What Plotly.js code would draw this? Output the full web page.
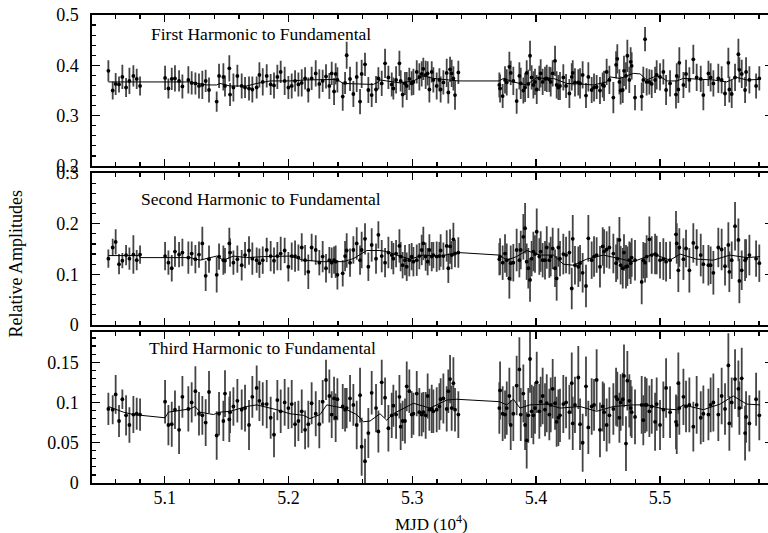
<!DOCTYPE html>
<html>
<head>
<meta charset="utf-8">
<script src="https://cdn.plot.ly/plotly-3.0.1.min.js"></script>
<style>
html,body{margin:0;padding:0;overflow:hidden;background:#fff;}
#chart{width:776px;height:533px;}
</style>
</head>
<body>
<div id="chart"></div>
<script>
// MJD (10^4) of each observation, shared by the three panels
const mjd = [
5.0545,5.0580,5.0604,5.0631,5.0658,5.0688,5.0715,5.0747,5.0774,5.0801,
5.1003,5.1030,5.1057,5.1083,5.1116,5.1143,5.1191,5.1218,5.1248,5.1277,5.1304,5.1331,5.1358,
5.1420,5.1439,5.1474,5.1487,5.1522,5.1528,5.1555,5.1587,5.1622,5.1649,5.1681,5.1708,5.1743,5.1765,5.1792,5.1824,5.1856,5.1883,5.1910,5.1937,5.1969,5.1999,5.2026,5.2053,5.2080,5.2107,5.2134,5.2160,5.2187,5.2220,5.2249,5.2276,5.2303,5.2330,5.2349,5.2368,5.2381,5.2395,
5.2438,5.2457,5.2470,5.2497,5.2524,5.2551,5.2578,5.2591,5.2618,5.2645,5.2672,5.2707,5.2726,5.2753,5.2780,5.2807,
5.2834,5.2847,5.2869,5.2896,5.2906,5.2922,5.2941,5.2955,5.2976,5.2995,5.3009,5.3036,5.3057,5.3076,5.3089,5.3108,5.3124,5.3138,5.3157,5.3170,5.3197,5.3219,5.3229,5.3251,5.3278,5.3291,5.3305,5.3318,5.3332,5.3345,5.3372,
5.3703,5.3709,5.3730,5.3749,5.3763,5.3784,5.3795,5.3816,5.3843,5.3865,
5.3876,5.3897,5.3911,5.3924,5.3937,5.3951,5.3964,5.3978,5.3991,5.4005,
5.4026,5.4037,5.4053,5.4072,5.4086,5.4107,5.4118,5.4134,5.4153,5.4166,
5.4180,5.4193,5.4220,5.4242,5.4269,5.4288,5.4296,5.4314,5.4341,5.4355,
5.4376,5.4403,5.4422,5.4449,5.4468,5.4489,5.4516,5.4538,5.4549,5.4570,
5.4592,5.4624,5.4646,5.4656,5.4673,5.4683,5.4700,5.4710,5.4726,5.4737,
5.4753,5.4764,5.4772,5.4799,5.4853,5.4866,5.4880,5.4893,5.4915,5.4934,
5.4961,5.4974,5.5001,5.5028,5.5050,5.5082,5.5130,5.5136,5.5149,5.5157,
5.5190,5.5211,5.5238,5.5270,5.5297,5.5330,5.5351,5.5392,5.5410,5.5432,
5.5472,5.5499,5.5526,5.5553,5.5561,5.5580,5.5607,5.5634,5.5642,5.5661,
5.5688,5.5696,5.5723,5.5777,5.5803
];

// First harmonic to fundamental
const first = [
0.389,0.350,0.363,0.362,0.377,0.356,0.369,0.379,0.373,0.359,
0.375,0.354,0.373,0.374,0.369,0.358,0.371,0.365,0.364,0.359,0.361,0.369,0.351,
0.328,0.379,0.377,0.359,0.394,0.342,0.356,0.379,0.359,0.356,0.354,0.352,0.356,0.381,0.367,0.379,0.362,0.360,0.377,0.387,0.369,0.356,0.359,0.369,0.362,0.365,0.374,0.351,0.374,0.384,0.363,0.369,0.378,0.359,0.384,0.348,0.383,0.371,
0.338,0.365,0.420,0.373,0.343,0.377,0.328,0.383,0.402,0.351,0.341,0.352,0.374,0.364,0.404,0.376,
0.362,0.354,0.371,0.404,0.369,0.342,0.364,0.359,0.373,0.364,0.367,0.387,0.377,0.383,0.393,0.381,0.384,0.352,0.387,0.371,0.359,0.371,0.352,0.366,0.385,0.346,0.392,0.384,0.374,0.341,0.386,
0.361,0.354,0.339,0.371,0.366,0.397,0.385,0.369,0.329,0.379,
0.364,0.350,0.356,0.385,0.363,0.419,0.376,0.361,0.367,0.352,
0.374,0.384,0.367,0.373,0.374,0.372,0.367,0.384,0.409,0.361,
0.356,0.359,0.376,0.359,0.344,0.377,0.385,0.366,0.366,0.364,
0.381,0.340,0.377,0.351,0.356,0.357,0.350,0.361,0.359,0.387,
0.371,0.336,0.401,0.413,0.367,0.350,0.351,0.389,0.379,0.419,
0.371,0.407,0.399,0.336,0.338,0.371,0.452,0.367,0.367,0.363,
0.371,0.381,0.377,0.387,0.351,0.364,0.342,0.379,0.352,0.405,
0.361,0.383,0.371,0.412,0.376,0.373,0.341,0.384,0.376,0.364,
0.374,0.371,0.344,0.405,0.352,0.343,0.376,0.422,0.391,0.383,
0.351,0.387,0.371,0.359,0.374
];
const firstErr = [
.021,.018,.022,.016,.024,.019,.026,.021,.02,.019,
.024,.02,.022,.026,.021,.024,.027,.023,.022,.025,
.028,.022,.025,.02,.024,.027,.021,.026,.023,.028,
.022,.025,.021,.024,.026,.022,.025,.027,.023,.021,
.026,.024,.022,.028,.023,.025,.021,.024,.027,.022,
.025,.023,.026,.029,.022,.024,.026,.023,.027,.021,
.025,.028,.022,.027,.024,.026,.03,.025,.028,.023,
.026,.024,.027,.022,.025,.029,.023,
.024,.022,.027,.025,.021,.026,.023,.028,.022,.024,
.026,.023,.027,.025,.022,.028,.024,.026,.021,.025,
.027,.023,.026,.024,.028,.022,.025,.027,.024,.029,.023,
.025,.028,.024,.027,.026,.03,.024,.028,.025,.027,
.031,.026,.029,.025,.028,.03,.024,.027,.026,.029,
.025,.028,.026,.024,.027,.025,.029,.026,.03,.027,
.025,.028,.026,.024,.029,.027,.025,.028,.026,.03,
.027,.025,.029,.026,.028,.024,.027,.025,.03,.026,
.028,.031,.027,.029,.025,.028,.026,.03,.027,.032,
.026,.029,.027,.025,.028,.026,.024,.027,.025,.028,
.026,.029,.027,.025,.03,.026,.028,.025,.027,.031,
.026,.028,.025,.029,.027,.026,.03,.025,.028,.026,
.029,.027,.025,.03,.026,.028,.027,.031,.025,.028,
.026,.029,.027,.025,.024
];

// Second harmonic to fundamental
const second = [
0.131,0.153,0.164,0.120,0.127,0.138,0.131,0.139,0.128,0.139,
0.136,0.123,0.112,0.145,0.139,0.143,0.133,0.141,0.130,0.139,0.161,0.097,0.130,
0.099,0.135,0.128,0.127,0.161,0.143,0.123,0.130,0.118,0.138,0.147,0.131,0.128,0.122,0.128,0.148,0.136,0.127,0.136,0.141,0.147,0.115,0.136,0.136,0.133,0.153,0.128,0.105,0.153,0.148,0.123,0.135,0.112,0.128,0.123,0.128,0.125,0.099,
0.102,0.136,0.147,0.123,0.148,0.161,0.128,0.148,0.170,0.115,0.158,0.131,0.178,0.136,0.123,0.143,
0.138,0.131,0.141,0.156,0.135,0.118,0.128,0.115,0.128,0.135,0.125,0.128,0.136,0.148,0.161,0.135,0.125,0.148,0.135,0.138,0.135,0.136,0.147,0.136,0.156,0.112,0.155,0.138,0.169,0.141,0.143,
0.130,0.135,0.123,0.141,0.128,0.092,0.122,0.123,0.148,0.128,
0.148,0.174,0.191,0.125,0.112,0.089,0.131,0.145,0.140,0.184,
0.135,0.145,0.128,0.128,0.153,0.128,0.135,0.151,0.112,0.092,
0.153,0.131,0.140,0.138,0.143,0.072,0.170,0.118,0.115,0.122,
0.103,0.077,0.171,0.128,0.135,0.138,0.115,0.155,0.145,0.149,
0.153,0.141,0.122,0.131,0.168,0.118,0.112,0.143,0.115,0.116,
0.128,0.122,0.133,0.128,0.085,0.128,0.123,0.135,0.169,0.138,
0.140,0.138,0.128,0.130,0.125,0.128,0.179,0.161,0.108,0.153,
0.130,0.151,0.108,0.162,0.153,0.138,0.120,0.118,0.118,0.103,
0.153,0.149,0.116,0.158,0.105,0.128,0.195,0.168,0.087,0.108,
0.128,0.131,0.138,0.131,0.122
];
const secondErr = [
.018,.017,.025,.02,.015,.02,.022,.038,.02,.018,
.028,.024,.026,.03,.025,.027,.032,.024,.028,.026,
.033,.03,.027,.035,.026,.029,.025,.031,.028,.024,
.027,.03,.026,.028,.032,.025,.029,.027,.024,.03,
.026,.028,.033,.025,.029,.027,.031,.026,.028,.03,
.034,.027,.029,.025,.031,.028,.026,.03,.027,.032,
.029,.026,.03,.034,.028,.027,.032,.029,.036,.031,
.028,.033,.03,.027,.032,.029,.031,
.028,.031,.027,.033,.029,.026,.03,.028,.032,.027,
.029,.031,.026,.03,.033,.028,.027,.031,.029,.026,
.03,.028,.032,.027,.031,.029,.034,.028,.033,.027,.03,
.032,.036,.034,.038,.033,.04,.035,.037,.042,.034,
.038,.045,.05,.036,.04,.043,.035,.039,.037,.046,
.036,.04,.034,.038,.042,.035,.039,.041,.037,.044,
.038,.035,.04,.036,.043,.041,.047,.038,.04,.036,
.039,.042,.046,.037,.04,.035,.041,.038,.044,.036,
.042,.039,.037,.041,.045,.038,.04,.036,.043,.039,
.037,.041,.038,.04,.044,.036,.039,.042,.045,.037,
.04,.038,.036,.041,.039,.037,.046,.04,.043,.038,
.041,.037,.044,.039,.036,.042,.038,.04,.037,.043,
.039,.041,.038,.045,.04,.037,.048,.042,.044,.039,
.041,.038,.04,.036,.037
];

// Third harmonic to fundamental
const third = [
0.092,0.091,0.110,0.077,0.104,0.084,0.072,0.085,0.086,0.085,
0.101,0.072,0.073,0.091,0.066,0.107,0.092,0.100,0.114,0.086,0.084,0.075,0.113,
0.059,0.086,0.077,0.111,0.079,0.088,0.095,0.102,0.091,0.093,0.072,0.107,0.118,0.102,0.098,0.098,0.081,0.060,0.103,0.089,0.100,0.093,0.098,0.073,0.077,0.089,0.066,0.073,0.099,0.086,0.073,0.101,0.128,0.108,0.085,0.105,0.081,0.104,
0.095,0.091,0.093,0.105,0.097,0.072,0.109,0.045,0.027,0.062,0.112,0.093,0.064,0.125,0.106,0.068,
0.084,0.096,0.085,0.107,0.070,0.077,0.077,0.120,0.114,0.085,0.086,0.111,0.088,0.085,0.088,0.084,0.108,0.091,0.092,0.089,0.091,0.095,0.104,0.105,0.092,0.114,0.129,0.093,0.124,0.091,0.085,
0.093,0.115,0.086,0.085,0.093,0.108,0.072,0.086,0.121,0.141,
0.085,0.111,0.072,0.053,0.084,0.154,0.089,0.084,0.093,0.125,
0.089,0.101,0.108,0.091,0.099,0.085,0.097,0.117,0.099,0.076,
0.081,0.084,0.098,0.100,0.088,0.124,0.074,0.097,0.131,0.073,
0.050,0.120,0.069,0.095,0.097,0.128,0.066,0.095,0.088,0.072,
0.084,0.092,0.107,0.104,0.081,0.100,0.104,0.133,0.049,0.127,
0.102,0.093,0.088,0.082,0.097,0.078,0.097,0.097,0.089,0.095,
0.076,0.098,0.072,0.091,0.118,0.088,0.076,0.072,0.124,0.093,
0.107,0.095,0.097,0.070,0.097,0.081,0.086,0.085,0.097,0.100,
0.085,0.108,0.092,0.146,0.074,0.100,0.129,0.117,0.093,0.130,
0.062,0.082,0.074,0.104,0.084
];
const thirdErr = [
.02,.018,.024,.02,.012,.025,.022,.023,.02,.02,
.027,.025,.028,.024,.03,.026,.028,.025,.031,.027,
.024,.029,.026,.03,.027,.025,.029,.028,.026,.024,
.027,.025,.029,.031,.026,.028,.025,.027,.03,.026,
.028,.025,.027,.029,.026,.03,.028,.025,.027,.024,
.029,.026,.028,.03,.027,.025,.033,.029,.027,.03,
.026,.028,.027,.025,.029,.026,.03,.034,.036,.028,
.031,.027,.03,.026,.028,.025,.029,
.028,.026,.03,.027,.029,.025,.028,.031,.027,.029,
.026,.028,.03,.027,.025,.029,.028,.026,.03,.027,
.028,.029,.026,.031,.028,.027,.03,.028,.032,.027,.029,
.032,.036,.034,.03,.033,.035,.031,.034,.037,.04,
.033,.036,.031,.035,.034,.042,.033,.036,.032,.038,
.034,.031,.035,.033,.036,.032,.034,.037,.033,.031,
.035,.033,.036,.032,.034,.038,.033,.035,.039,.032,
.036,.037,.033,.035,.032,.038,.034,.031,.036,.033,
.035,.032,.036,.034,.031,.035,.033,.039,.034,.037,
.033,.035,.032,.034,.036,.031,.035,.033,.032,.034,
.036,.033,.031,.035,.037,.032,.034,.036,.038,.033,
.035,.032,.034,.031,.036,.033,.035,.032,.034,.036,
.033,.035,.032,.04,.034,.031,.037,.035,.033,.038,
.034,.032,.035,.033,.031
];

// Smoothed curves
const firstFitX = [5.0545,5.0801,5.1003,5.1205,5.1339,5.1420,5.1447,5.1528,5.1662,5.1743,5.1851,5.2012,5.2147,5.2282,5.2389,5.2443,5.2551,5.2685,5.2726,5.2739,5.2793,5.2901,5.3009,5.3089,5.3170,5.3278,5.3372,5.3703,5.3736,5.3816,5.3924,5.4005,5.4086,5.4140,5.4247,5.4355,5.4463,5.4570,5.4597,5.4678,5.4786,5.4840,5.4893,5.4974,5.5028,5.5055,5.5136,5.5190,5.5324,5.5432,5.5539,5.5620,5.5701,5.5808];
const firstFitY = [0.367,0.367,0.368,0.367,0.361,0.361,0.364,0.359,0.359,0.364,0.369,0.369,0.371,0.372,0.372,0.364,0.363,0.362,0.367,0.371,0.369,0.365,0.369,0.379,0.374,0.371,0.369,0.369,0.374,0.367,0.361,0.376,0.373,0.374,0.364,0.363,0.361,0.367,0.377,0.374,0.384,0.383,0.371,0.379,0.374,0.369,0.369,0.374,0.373,0.371,0.367,0.376,0.371,0.372];

const secondFitX = [5.0545,5.0790,5.0801,5.1003,5.1205,5.1285,5.1420,5.1474,5.1555,5.1662,5.1797,5.2012,5.2120,5.2282,5.2443,5.2524,5.2632,5.2739,5.2793,5.2874,5.2982,5.3089,5.3224,5.3372,5.3703,5.3763,5.3843,5.3924,5.4032,5.4140,5.4220,5.4301,5.4409,5.4543,5.4678,5.4786,5.4947,5.5082,5.5163,5.5297,5.5432,5.5566,5.5701,5.5808];
const secondFitY = [0.137,0.137,0.133,0.133,0.133,0.128,0.136,0.128,0.136,0.133,0.135,0.136,0.128,0.125,0.125,0.131,0.147,0.147,0.145,0.138,0.130,0.138,0.136,0.143,0.138,0.128,0.135,0.147,0.138,0.138,0.120,0.118,0.130,0.138,0.131,0.125,0.140,0.128,0.140,0.130,0.128,0.138,0.133,0.135];

const thirdFitX = [5.0545,5.0666,5.0747,5.0801,5.1003,5.1030,5.1205,5.1245,5.1285,5.1393,5.1447,5.1528,5.1662,5.1743,5.1905,5.2012,5.2120,5.2174,5.2255,5.2309,5.2443,5.2551,5.2605,5.2659,5.2739,5.2793,5.2847,5.3009,5.3143,5.3278,5.3359,5.3703,5.3763,5.3816,5.3870,5.3951,5.4086,5.4193,5.4355,5.4489,5.4624,5.4786,5.4893,5.5028,5.5136,5.5190,5.5351,5.5486,5.5593,5.5701,5.5808];
const thirdFitY = [0.095,0.088,0.085,0.084,0.081,0.088,0.092,0.095,0.088,0.085,0.088,0.089,0.095,0.097,0.091,0.086,0.084,0.080,0.085,0.097,0.093,0.085,0.076,0.077,0.086,0.078,0.086,0.099,0.093,0.103,0.104,0.101,0.097,0.104,0.093,0.097,0.098,0.093,0.095,0.089,0.095,0.097,0.097,0.092,0.091,0.097,0.091,0.098,0.108,0.098,0.097];

const panelTitles = ['First Harmonic to Fundamental','Second Harmonic to Fundamental','Third Harmonic to Fundamental'];
const xTickVals = [5.1,5.2,5.3,5.4,5.5];
const xTickText = ['5.1','5.2','5.3','5.4','5.5'];
const y1TickVals = [0.2,0.3,0.4,0.5];
const y1TickText = ['0.2','0.3','0.4','0.5'];
const y2TickVals = [0,0.1,0.2,0.3];
const y2TickText = ['0','0.1','0.2','0.3'];
const y3TickVals = [0,0.05,0.1,0.15];
const y3TickText = ['0','0.05','0.1','0.15'];

const W = 776, H = 533;
const FONT = '"Liberation Serif", "Times New Roman", serif';

function pts(yv, ev, xa, ya) {
  return {
    x: mjd, y: yv, xaxis: xa, yaxis: ya, type: 'scatter', mode: 'markers',
    marker: {color: '#000', size: 3.8},
    error_y: {type: 'data', array: ev, visible: true, color: '#444', thickness: 1.8, width: 0},
    hoverinfo: 'x+y'
  };
}
function fit(xv, yv, xa, ya) {
  return {x: xv, y: yv, xaxis: xa, yaxis: ya, type: 'scatter', mode: 'lines',
          line: {color: '#000', width: 1}, hoverinfo: 'skip'};
}

const data = [
  pts(first, firstErr, 'x', 'y'), fit(firstFitX, firstFitY, 'x', 'y'),
  pts(second, secondErr, 'x2', 'y2'), fit(secondFitX, secondFitY, 'x2', 'y2'),
  pts(third, thirdErr, 'x3', 'y3'), fit(thirdFitX, thirdFitY, 'x3', 'y3')
];

const xDomain = [92.3 / W, 773 / W];
const xRange = [5.04152, 5.59136];
function xAxis(anchor, labels) {
  return {
    anchor: anchor, domain: xDomain, range: xRange, showgrid: false, zeroline: false,
    showline: true, linecolor: '#000', linewidth: 2, mirror: 'ticks',
    ticks: 'inside', ticklen: 7, tickwidth: 1.4, tickcolor: '#000',
    tickmode: 'array', tickvals: xTickVals, ticktext: xTickText,
    showticklabels: labels, ticklabelstandoff: -3,
    tickfont: {family: FONT, size: 18, color: '#000'},
    minor: {dtick: 0.02, tick0: 5.0, ticks: 'inside', ticklen: 4, tickwidth: 1.2, tickcolor: '#000', showgrid: false}
  };
}
function yAxis(anchor, top, bottom, range, tv, tt, minorD) {
  return {
    anchor: anchor, domain: [1 - bottom / H, 1 - top / H], range: range,
    showgrid: false, zeroline: false,
    showline: true, linecolor: '#000', linewidth: 2, mirror: 'ticks',
    ticks: 'inside', ticklen: 8, tickwidth: 1.4, tickcolor: '#000',
    tickmode: 'array', tickvals: tv, ticktext: tt, ticklabelstandoff: 8,
    tickfont: {family: FONT, size: 18, color: '#000'},
    minor: {dtick: minorD, tick0: 0, ticks: 'inside', ticklen: 4, tickwidth: 1.2, tickcolor: '#000', showgrid: false}
  };
}

const annFont = {family: FONT, size: 17.5, color: '#000'};
const layout = {
  width: W, height: H, margin: {l: 0, r: 0, t: 0, b: 0},
  paper_bgcolor: '#fff', plot_bgcolor: '#fff', showlegend: false,
  xaxis: xAxis('y', false), xaxis2: xAxis('y2', false), xaxis3: xAxis('y3', true),
  yaxis: yAxis('x', 15, 166, [0.2, 0.5], y1TickVals, y1TickText, 0.02),
  yaxis2: yAxis('x2', 173, 325, [0, 0.3], y2TickVals, y2TickText, 0.02),
  yaxis3: yAxis('x3', 332, 483, [0, 0.1875], y3TickVals, y3TickText, 0.01),
  annotations: [
    {text: panelTitles[0], xref: 'paper', yref: 'paper', x: 149 / W, y: 1 - 34 / H, xanchor: 'left', yanchor: 'middle', showarrow: false, font: annFont},
    {text: panelTitles[1], xref: 'paper', yref: 'paper', x: 139 / W, y: 1 - 199 / H, xanchor: 'left', yanchor: 'middle', showarrow: false, font: annFont},
    {text: panelTitles[2], xref: 'paper', yref: 'paper', x: 147 / W, y: 1 - 348 / H, xanchor: 'left', yanchor: 'middle', showarrow: false, font: annFont},
    {text: 'Relative Amplitudes', xref: 'paper', yref: 'paper', x: 15.5 / W, y: 1 - 264 / H, xanchor: 'center', yanchor: 'middle', textangle: -90, showarrow: false, font: {family: FONT, size: 18, color: '#000'}},
    {text: 'MJD (10<sup>4</sup>)', xref: 'paper', yref: 'paper', x: 431 / W, y: 1 - 522.5 / H, xanchor: 'center', yanchor: 'middle', showarrow: false, font: {family: FONT, size: 17, color: '#000'}}
  ]
};

Plotly.newPlot('chart', data, layout, {displayModeBar: false, staticPlot: true});
</script>
</body>
</html>
